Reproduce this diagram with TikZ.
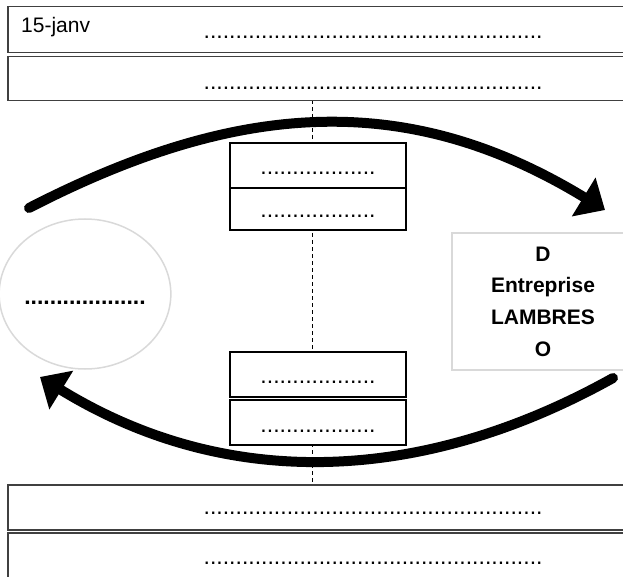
\documentclass[tikz,border=0pt]{standalone}
\usepackage{fontspec}
\setmainfont{Liberation Sans}
\usetikzlibrary{arrows.meta,shapes.geometric}
\definecolor{lightgr}{HTML}{D9D9D9}
\definecolor{darkgr}{HTML}{404040}
\newcommand{\mydotsL}{.....................................................}
\newcommand{\mydotsS}{..................}
\newcommand{\mydotsC}{...................}
\begin{document}
\begin{tikzpicture}[x=1pt,y=-1pt,
  rowbox/.style={draw=darkgr,line width=1.5pt,fill=white,rectangle,anchor=north west,minimum width=660pt,inner sep=0pt},
  smallbox/.style={draw=black,line width=1.2pt,fill=white,rectangle,minimum width=176pt,inner sep=0pt,font=\fontsize{23}{23}\selectfont},
  dottext/.style={inner sep=0pt,font=\fontsize{23}{23}\selectfont,anchor=base},
  flow/.style={line width=10pt,line cap=round,-{Triangle[length=25pt,width=44pt]}},
  axisline/.style={line width=1pt,dash pattern=on 4pt off 3pt}
]
\useasboundingbox (0,0) rectangle (623,577);
\clip (0,0) rectangle (623,577);
% vertical axis
\coordinate (vtop) at (312,100);
\coordinate (vbot) at (312,484);
\draw[axisline] (vtop) -- (vbot);
% rows
\node[rowbox,minimum height=46pt] (r1) at (7,6) {};
\node[rowbox,minimum height=44pt] (r2) at (7,56) {};
\node[rowbox,minimum height=45pt] (r3) at (7,484) {};
\node[rowbox,minimum height=70pt] (r4) at (7,532) {};
\node[anchor=base west,inner sep=0pt,font=\fontsize{21}{21}\selectfont] (date) at (21,33) {15-janv};
\node[dottext] (d1) at (373,38.2) {\mydotsL};
\node[dottext] (d2) at (373,89.2) {\mydotsL};
\node[dottext] (d3) at (373,514.2) {\mydotsL};
\node[dottext] (d4) at (373,564.2) {\mydotsL};
% small boxes
\node[smallbox,minimum height=45pt] (s1) at (318,165.5) {\raisebox{-8.7pt}[0pt][0pt]{\mydotsS}};
\node[smallbox,minimum height=42pt] (s2) at (318,209) {\raisebox{-8.2pt}[0pt][0pt]{\mydotsS}};
\node[smallbox,minimum height=45pt] (s3) at (318,374.5) {\raisebox{-8.7pt}[0pt][0pt]{\mydotsS}};
\node[smallbox,minimum height=45pt] (s4) at (318,422.5) {\raisebox{-9.7pt}[0pt][0pt]{\mydotsS}};
% circle
\node[ellipse,draw=lightgr,line width=1.5pt,minimum width=168pt,minimum height=150pt,inner sep=0pt,font=\bfseries\fontsize{23}{23}\selectfont] (circ) at (85,294) {\raisebox{-10.5pt}[0pt][0pt]{\mydotsC}};
% firm
\node[draw=lightgr,line width=2pt,rectangle,minimum width=182pt,minimum height=137pt,inner sep=0pt,align=center,font=\bfseries\fontsize{21}{31.7}\selectfont] (firm) at (543,301.5) {D\\Entreprise\\LAMBRES\\O};
% arcs
\coordinate (a1s) at (29,208);
\coordinate (a1e) at (605,210);
\draw[flow] (a1s) .. controls (235,102) and (405,88) .. (a1e);
\coordinate (a2s) at (613,378);
\coordinate (a2e) at (40,377);
\draw[flow] (a2s) .. controls (423,484) and (227,492) .. (a2e);
\end{tikzpicture}
\end{document}
